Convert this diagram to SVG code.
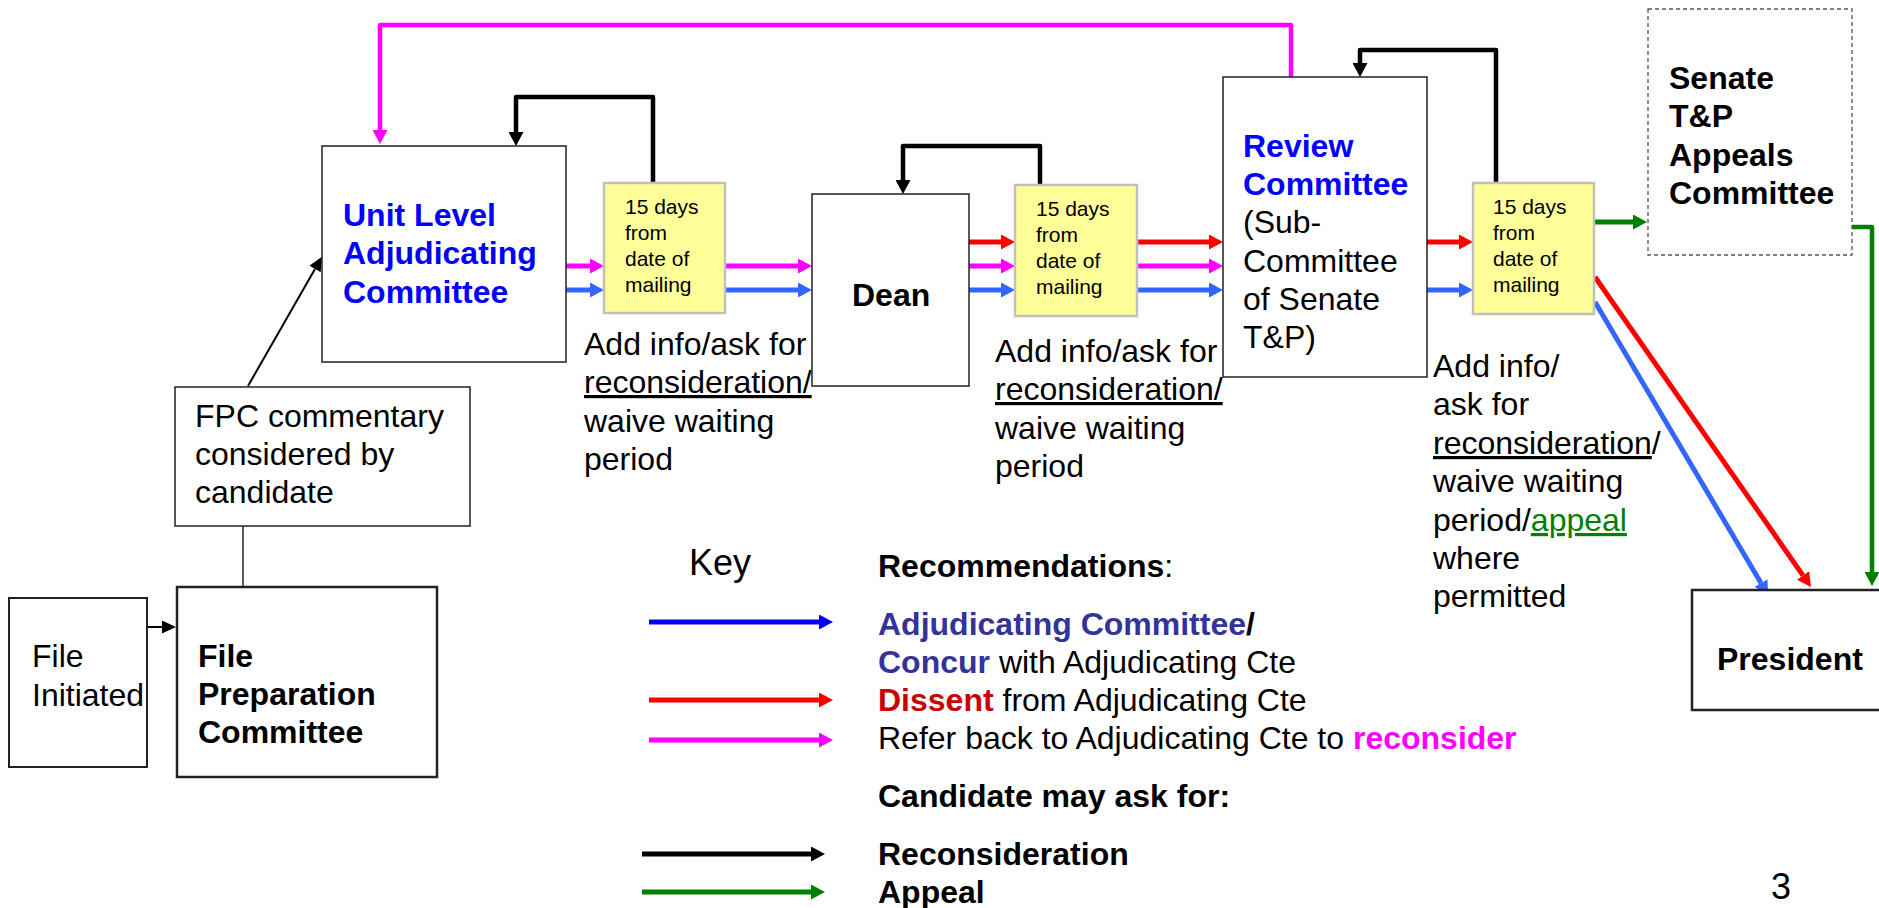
<svg xmlns="http://www.w3.org/2000/svg" width="1879" height="908" viewBox="0 0 1879 908">
<style>
text{font-family:"Liberation Sans",Arial,sans-serif;font-size:32px;fill:#000}
.b{font-weight:bold}
.sm{font-size:21px}
.big{font-size:36px}
.blue{fill:#0000FF}
.box{fill:#fff;stroke:#222;stroke-width:1.5}
.box2{fill:#fff;stroke:#222;stroke-width:2.5}
.yel{fill:#FFFF99;stroke:#C0C0C0;stroke-width:2.5}
.a{fill:none;stroke-width:5}
.lp{fill:none;stroke-width:4.5;stroke-linejoin:round}
.mg{stroke:#FF00FF}
.rd{stroke:#FF0000}
.bl{stroke:#3366FF}
.BL{stroke:#0000FF}
.gr{stroke:#008000}
.bk{stroke:#000}
</style>
<defs>
<marker id="hm" markerUnits="userSpaceOnUse" markerWidth="14" markerHeight="15" refX="0" refY="7.5" orient="auto"><path d="M0,0L14,7.5L0,15z" fill="#FF00FF"/></marker>
<marker id="hr" markerUnits="userSpaceOnUse" markerWidth="14" markerHeight="15" refX="0" refY="7.5" orient="auto"><path d="M0,0L14,7.5L0,15z" fill="#FF0000"/></marker>
<marker id="hb" markerUnits="userSpaceOnUse" markerWidth="14" markerHeight="15" refX="0" refY="7.5" orient="auto"><path d="M0,0L14,7.5L0,15z" fill="#3366FF"/></marker>
<marker id="hB" markerUnits="userSpaceOnUse" markerWidth="14" markerHeight="15" refX="0" refY="7.5" orient="auto"><path d="M0,0L14,7.5L0,15z" fill="#0000FF"/></marker>
<marker id="hg" markerUnits="userSpaceOnUse" markerWidth="14" markerHeight="15" refX="0" refY="7.5" orient="auto"><path d="M0,0L14,7.5L0,15z" fill="#008000"/></marker>
<marker id="hk" markerUnits="userSpaceOnUse" markerWidth="14" markerHeight="15" refX="0" refY="7.5" orient="auto"><path d="M0,0L14,7.5L0,15z" fill="#000"/></marker>
<marker id="hkt" markerUnits="userSpaceOnUse" markerWidth="14" markerHeight="13" refX="0" refY="6.5" orient="auto"><path d="M0,0L14,6.5L0,13z" fill="#000"/></marker>
</defs>
<rect width="1879" height="908" fill="#fff"/>

<g id="connectors">
  <!-- FPC to Unit -->
  <line x1="248" y1="386" x2="315" y2="269" stroke="#000" stroke-width="2" marker-end="url(#hkt)"/>
  <line x1="243" y1="526" x2="243" y2="587" stroke="#222" stroke-width="1.5"/>
  <line x1="144" y1="627" x2="162" y2="627" stroke="#000" stroke-width="2" marker-end="url(#hkt)"/>
  <!-- magenta top loop -->
  <path class="lp mg" stroke-width="4" d="M1291,77V25H380V130" marker-end="url(#hm)"/>
  <!-- reconsideration loops -->
  <path class="lp bk" d="M653,183V97H516V132" marker-end="url(#hk)"/>
  <path class="lp bk" d="M1040,185V146H903V180" marker-end="url(#hk)"/>
  <path class="lp bk" d="M1496,183V50H1360V63" marker-end="url(#hk)"/>
  <!-- Unit -> Y1 -->
  <line class="a mg" x1="566" y1="266" x2="590" y2="266" marker-end="url(#hm)"/>
  <line class="a bl" x1="566" y1="290" x2="590" y2="290" marker-end="url(#hb)"/>
  <!-- Y1 -> Dean -->
  <line class="a mg" x1="726" y1="266" x2="798" y2="266" marker-end="url(#hm)"/>
  <line class="a bl" x1="726" y1="290" x2="798" y2="290" marker-end="url(#hb)"/>
  <!-- Dean -> Y2 -->
  <line class="a rd" x1="969" y1="242" x2="1001" y2="242" marker-end="url(#hr)"/>
  <line class="a mg" x1="969" y1="266" x2="1001" y2="266" marker-end="url(#hm)"/>
  <line class="a bl" x1="969" y1="290" x2="1001" y2="290" marker-end="url(#hb)"/>
  <!-- Y2 -> Review -->
  <line class="a rd" x1="1138" y1="242" x2="1209" y2="242" marker-end="url(#hr)"/>
  <line class="a mg" x1="1138" y1="266" x2="1209" y2="266" marker-end="url(#hm)"/>
  <line class="a bl" x1="1138" y1="290" x2="1209" y2="290" marker-end="url(#hb)"/>
  <!-- Review -> Y3 -->
  <line class="a rd" x1="1427" y1="242" x2="1459" y2="242" marker-end="url(#hr)"/>
  <line class="a bl" x1="1427" y1="290" x2="1459" y2="290" marker-end="url(#hb)"/>
  <!-- Y3 -> Senate -->
  <line class="a gr" x1="1595" y1="222" x2="1633" y2="222" marker-end="url(#hg)"/>
  <!-- Senate -> President -->
  <path class="lp gr" d="M1847,227H1872V572" marker-end="url(#hg)"/>
  <!-- Y3 -> President -->
  <line class="a rd" x1="1595" y1="277" x2="1803" y2="575.5" marker-end="url(#hr)"/>
  <line class="a bl" x1="1595" y1="302" x2="1761" y2="583" marker-end="url(#hb)"/>
</g>

<g id="file-initiated">
  <rect x="9" y="598" width="138" height="169" fill="#fff" stroke="#222" stroke-width="2"/>
  <text x="32" y="667">File</text>
  <text x="32" y="706">Initiated</text>
</g>
<g id="file-preparation">
  <rect class="box2" x="177" y="587" width="260" height="190"/>
  <text class="b" x="198" y="667">File</text>
  <text class="b" x="198" y="705">Preparation</text>
  <text class="b" x="198" y="743">Committee</text>
</g>
<g id="fpc-commentary">
  <rect class="box" x="175" y="387" width="295" height="139"/>
  <text x="195" y="427">FPC commentary</text>
  <text x="195" y="465">considered by</text>
  <text x="195" y="503">candidate</text>
</g>
<g id="unit-level">
  <rect class="box" x="322" y="146" width="244" height="216"/>
  <text class="b blue" x="343" y="226">Unit Level</text>
  <text class="b blue" x="343" y="264">Adjudicating</text>
  <text class="b blue" x="343" y="303">Committee</text>
</g>
<g id="wait1">
  <rect class="yel" x="604" y="183" width="121" height="130"/>
  <text class="sm" x="625" y="214">15 days</text>
  <text class="sm" x="625" y="240">from</text>
  <text class="sm" x="625" y="266">date of</text>
  <text class="sm" x="625" y="292">mailing</text>
</g>
<g id="note1">
  <text x="584" y="355">Add info/ask for</text>
  <text x="584" y="393"><tspan text-decoration="underline">reconsideration/</tspan></text>
  <text x="584" y="432">waive waiting</text>
  <text x="584" y="470">period</text>
</g>
<g id="dean">
  <rect class="box" x="812" y="194" width="157" height="192"/>
  <text class="b" x="852" y="306">Dean</text>
</g>
<g id="wait2">
  <rect class="yel" x="1015" y="185" width="122" height="131"/>
  <text class="sm" x="1036" y="216">15 days</text>
  <text class="sm" x="1036" y="242">from</text>
  <text class="sm" x="1036" y="268">date of</text>
  <text class="sm" x="1036" y="294">mailing</text>
</g>
<g id="note2">
  <text x="995" y="362">Add info/ask for</text>
  <text x="995" y="400"><tspan text-decoration="underline">reconsideration/</tspan></text>
  <text x="995" y="439">waive waiting</text>
  <text x="995" y="477">period</text>
</g>
<g id="review">
  <rect class="box" x="1223" y="77" width="204" height="300"/>
  <text class="b blue" x="1243" y="157">Review</text>
  <text class="b blue" x="1243" y="195">Committee</text>
  <text x="1243" y="233">(Sub-</text>
  <text x="1243" y="272">Committee</text>
  <text x="1243" y="310">of Senate</text>
  <text x="1243" y="348">T&amp;P)</text>
</g>
<g id="wait3">
  <rect class="yel" x="1473" y="183" width="121" height="131"/>
  <text class="sm" x="1493" y="214">15 days</text>
  <text class="sm" x="1493" y="240">from</text>
  <text class="sm" x="1493" y="266">date of</text>
  <text class="sm" x="1493" y="292">mailing</text>
</g>
<g id="note3">
  <text x="1433" y="377">Add info/</text>
  <text x="1433" y="415">ask for</text>
  <text x="1433" y="454"><tspan text-decoration="underline">reconsideration</tspan>/</text>
  <text x="1433" y="492">waive waiting</text>
  <text x="1433" y="531">period/<tspan fill="#008000" text-decoration="underline">appeal</tspan></text>
  <text x="1433" y="569">where</text>
  <text x="1433" y="607">permitted</text>
</g>
<g id="senate">
  <rect x="1648" y="9" width="204" height="246" fill="#fff" stroke="#555" stroke-width="1.3" stroke-dasharray="4 3"/>
  <text class="b" x="1669" y="89">Senate</text>
  <text class="b" x="1669" y="127">T&amp;P</text>
  <text class="b" x="1669" y="166">Appeals</text>
  <text class="b" x="1669" y="204">Committee</text>
</g>
<g id="president">
  <rect class="box2" x="1692" y="590" width="200" height="120"/>
  <text class="b" x="1717" y="670">President</text>
</g>

<g id="key">
  <text class="big" x="689" y="575">Key</text>
  <line class="a BL" x1="649" y1="622" x2="819" y2="622" marker-end="url(#hB)"/>
  <line class="a rd" x1="649" y1="700" x2="819" y2="700" marker-end="url(#hr)"/>
  <line class="a mg" x1="649" y1="740" x2="819" y2="740" marker-end="url(#hm)"/>
  <line class="a bk" x1="642" y1="854" x2="811" y2="854" marker-end="url(#hk)"/>
  <line class="a gr" x1="642" y1="892" x2="811" y2="892" marker-end="url(#hg)"/>
  <text x="878" y="577"><tspan class="b">Recommendations</tspan>:</text>
  <text class="b" x="878" y="635"><tspan fill="#333399">Adjudicating Committee</tspan>/</text>
  <text x="878" y="673"><tspan class="b" fill="#333399">Concur</tspan> with Adjudicating Cte</text>
  <text x="878" y="711"><tspan class="b" fill="#CC0000">Dissent</tspan> from Adjudicating Cte</text>
  <text x="878" y="749">Refer back to Adjudicating Cte to <tspan class="b" fill="#FF00FF">reconsider</tspan></text>
  <text class="b" x="878" y="807">Candidate may ask for:</text>
  <text class="b" x="878" y="865">Reconsideration</text>
  <text class="b" x="878" y="903" fill="#008000">Appeal</text>
</g>
<text class="big" x="1771" y="899">3</text>
</svg>
